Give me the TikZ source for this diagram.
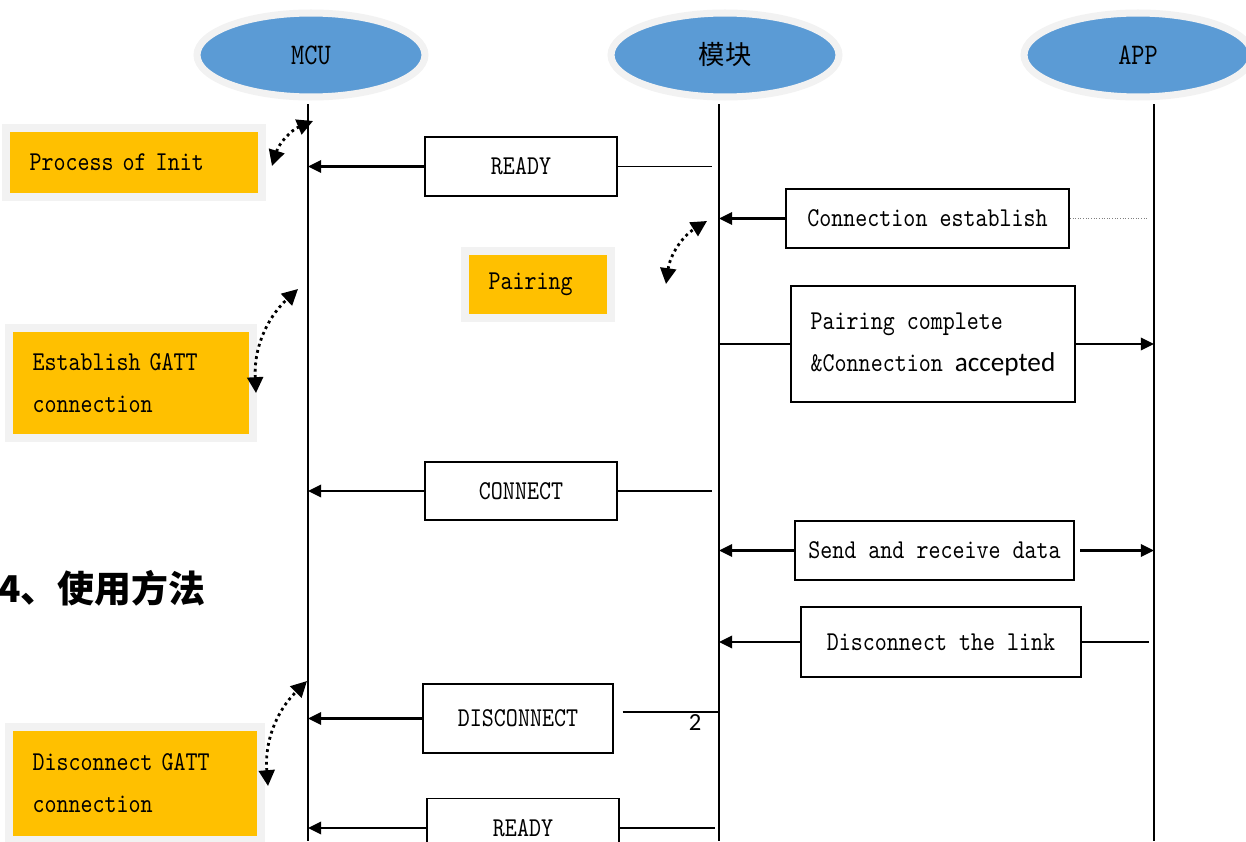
\documentclass[tikz,border=0pt]{standalone}
\usepackage{fontspec}
\usepackage{tikz}
\usetikzlibrary{shapes,arrows.meta,positioning}
\newfontfamily\cjk{Noto Sans CJK SC}
\newfontfamily\carlito{Carlito}
\newfontfamily\seqtt[FakeStretch=0.84]{lmmono10-regular.otf}
\definecolor{lifeblue}{HTML}{5B9BD5}
\definecolor{noteorange}{HTML}{FFC000}
\definecolor{rim}{HTML}{F2F2F2}
\newcommand{\seqfont}{\seqtt\fontsize{15.5pt}{24pt}\selectfont}

\begin{document}
\begin{tikzpicture}[x=0.02cm, y=-0.02cm,
	head/.style={ellipse, fill=lifeblue, draw=rim, line width=4pt, minimum width=4.56cm, minimum height=1.68cm, inner sep=0pt},
	note/.style={fill=noteorange, draw=rim, line width=4.5pt, align=left, inner xsep=0.47cm, inner ysep=0pt, font=\seqfont},
	msgbox/.style={draw, line width=1.1pt, align=center, inner sep=0pt, font=\seqfont},
	msg/.style={line width=1.5pt, -{Triangle[length=7.5pt,width=7pt]}},
	link/.style={line width=1pt},
	faint/.style={gray, densely dotted, line width=0.5pt},
	loopy/.style={dotted, line width=1.6pt, {Triangle[length=9pt,width=9pt]}-{Triangle[length=9pt,width=9pt]}, bend left=25}]
	\useasboundingbox (0,0) rectangle (1246,841);
	
	\node[head, font=\seqtt\fontsize{17pt}{17pt}\selectfont] (mcu) at (311,55) {MCU};
	\node[head, font=\cjk\fontsize{15pt}{15pt}\selectfont] (modu) at (725,55) {模块};
	\node[head, font=\seqtt\fontsize{17pt}{17pt}\selectfont] (app) at (1138,55) {APP};
	
	\coordinate (mcuBot) at (308,841);
	\coordinate (moduBot) at (719,841);
	\coordinate (appBot) at (1154,841);
	\draw[line width=1.1pt, shorten <=2pt] (mcu.south -| mcuBot) -- (mcuBot);
	\draw[line width=1.1pt, shorten <=2pt] (modu.south -| moduBot) -- (moduBot);
	\draw[line width=1.1pt, shorten <=2pt] (app.south -| appBot) -- (appBot);
	
	\node[note, minimum width=5.12cm, minimum height=1.38cm, text width=4.18cm] (init) at (134,162.5) {Process of Init};
	\node[note, minimum width=2.92cm, minimum height=1.34cm, text width=1.98cm] (pair) at (538,284.5) {Pairing};
	\node[note, minimum width=4.88cm, minimum height=2.2cm, text width=3.94cm] (gatt) at (131,383) {Establish GATT\\connection};
	\node[note, minimum width=5.04cm, minimum height=2.26cm, text width=4.1cm] (ungatt) at (135,783.5) {Disconnect GATT\\connection};
	
	\node[msgbox, minimum width=3.84cm, minimum height=1.18cm] (ready1) at (521,166.5) {READY};
	\node[msgbox, minimum width=5.66cm, minimum height=1.18cm] (connest) at (927.5,218.5) {Connection establish};
	\node[msgbox, minimum width=5.68cm, minimum height=2.32cm, align=left] (paircomp) at (933,344) {Pairing complete\\\&Connection {\carlito\fontsize{15.5pt}{24pt}\selectfont accepted}};
	\node[msgbox, minimum width=3.84cm, minimum height=1.16cm] (connect) at (521,491) {CONNECT};
	\node[msgbox, minimum width=5.58cm, minimum height=1.18cm] (sendrecv) at (934.5,550.5) {Send and receive data};
	\node[msgbox, minimum width=5.6cm, minimum height=1.4cm] (disclink) at (941,642) {Disconnect the link};
	\node[msgbox, minimum width=3.8cm, minimum height=1.38cm] (disconnect) at (518,718.5) {DISCONNECT};
	\node[msgbox, minimum width=3.84cm, minimum height=1.18cm] (ready2) at (523,828) {READY};
	
	\node[anchor=west, inner sep=0pt, font=\cjk\bfseries\fontsize{21pt}{21pt}\selectfont] (usage) at (-2,588) {4、使用方法};
	\node[font=\carlito\fontsize{14pt}{14pt}\selectfont] (pagenum) at (695,723) {2};
	
	\draw[msg] (ready1.west) -- (ready1.west -| mcuBot);
	\draw[link, shorten >=4pt] (ready1.east) -- (ready1.east -| moduBot);
	\draw[msg] (connest.west) -- (connest.west -| moduBot);
	\draw[faint, shorten >=4pt] (connest.east) -- (connest.east -| appBot);
	\draw[link] (paircomp.west -| moduBot) -- (paircomp.west);
	\draw[msg] (paircomp.east) -- (paircomp.east -| appBot);
	\draw[msg] (connect.west) -- (connect.west -| mcuBot);
	\draw[link, shorten >=4pt] (connect.east) -- (connect.east -| moduBot);
	\draw[msg] (sendrecv.west) -- (sendrecv.west -| moduBot);
	\draw[msg, shorten <=3pt] (sendrecv.east) -- (sendrecv.east -| appBot);
	\draw[msg] (disclink.west) -- (disclink.west -| moduBot);
	\draw[link, shorten >=3pt] (disclink.east) -- (disclink.east -| appBot);
	\draw[msg] (disconnect.west) -- (disconnect.west -| mcuBot);
	\draw[link, shorten <=5pt] (disconnect.4) -- (disconnect.4 -| moduBot);
	\draw[msg] (ready2.west) -- (ready2.west -| mcuBot);
	\draw[link, shorten >=2pt] (ready2.east) -- (ready2.east -| moduBot);
	
	\coordinate (initA) at (272,166);
	\coordinate (initB) at (313,121);
	\coordinate (pairA) at (666,284);
	\coordinate (pairB) at (707,221);
	\coordinate (gattA) at (256,393);
	\coordinate (gattB) at (298,289);
	\coordinate (ungattA) at (268,786);
	\coordinate (ungattB) at (307,681);
	\draw[loopy] (initA) to (initB);
	\draw[loopy] (pairA) to (pairB);
	\draw[loopy] (gattA) to (gattB);
	\draw[loopy] (ungattA) to (ungattB);
\end{tikzpicture}
\end{document}
